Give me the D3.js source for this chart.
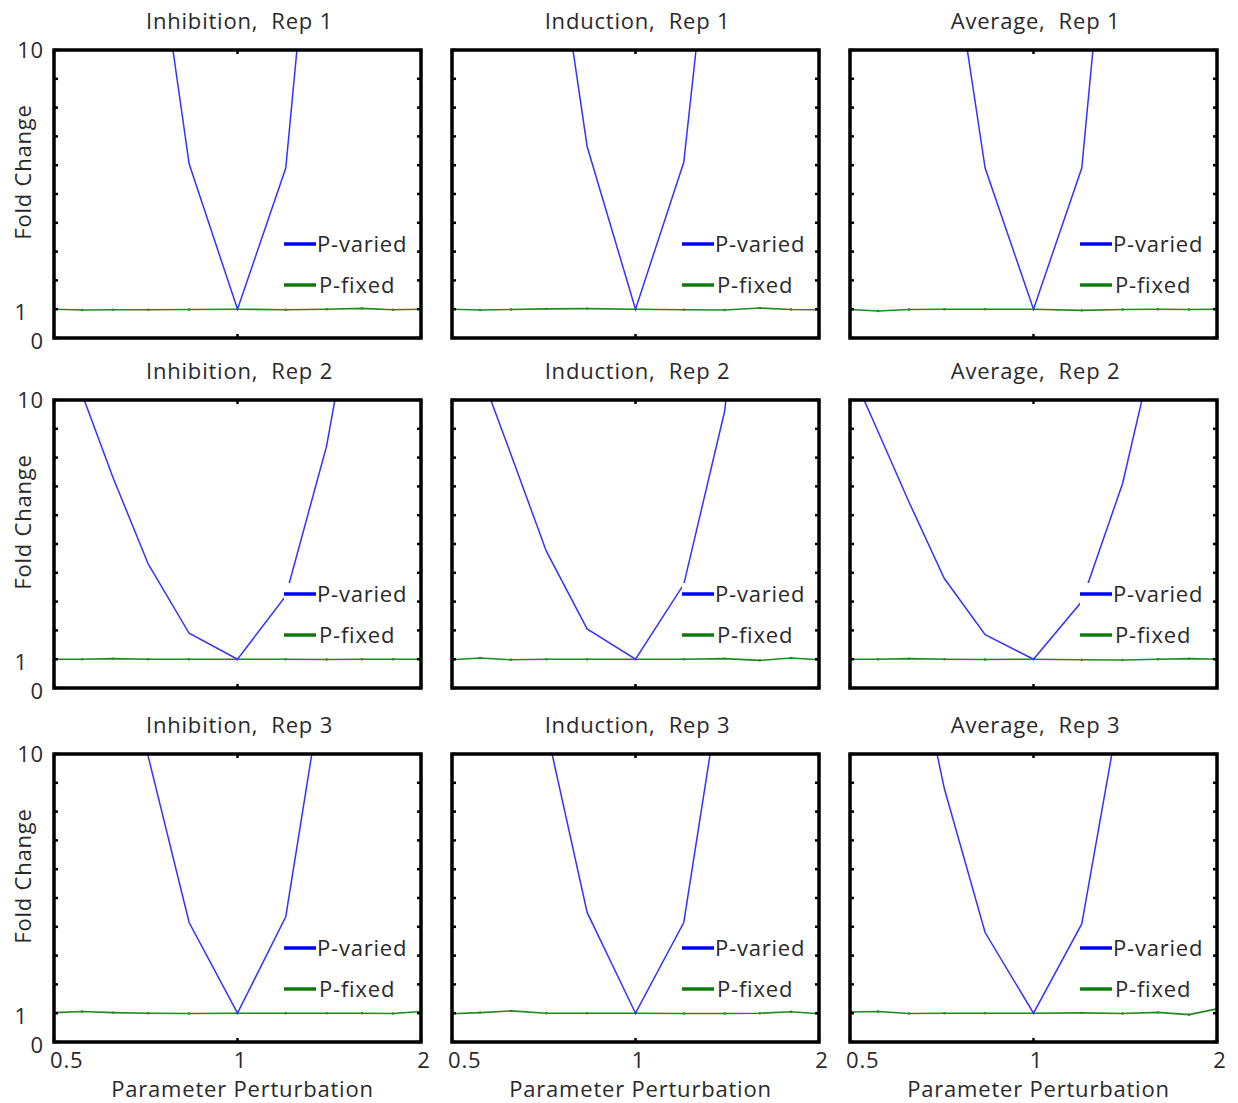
<!DOCTYPE html>
<html>
<head>
<meta charset="utf-8">
<script src="https://cdn.jsdelivr.net/npm/d3@7"></script>
<style>
  html, body { margin: 0; padding: 0; background: #fff; }
  svg text { font-family: "Open Sans", "Noto Sans", sans-serif; fill: #2a2a2a; letter-spacing: 0.8px; }
</style>
</head>
<body>
<svg id="chart" width="1238" height="1103"></svg>
<script>
// ---------------- data ----------------
const perturbation = [0.5, 0.556, 0.625, 0.714, 0.833, 1, 1.2, 1.4, 1.6, 1.8, 2];
const conditions = ["Inhibition", "Induction", "Average"];
const reps = [1, 2, 3];
const seriesNames = ["P-varied", "P-fixed"];
const xTickValues = [0.5, 1, 2];
const xTickLabels = ["0.5", "1", "2"];
const yTickValues = [0, 1, 10];
const yTickLabels = ["0", "1", "10"];
const yMinorTicks = [0, 1, 2, 3, 4, 5, 6, 7, 8, 9, 10];

// P-varied (blue) — rows: Rep 1..3, columns: Inhibition, Induction, Average
const variedInhibitionRep1 = [60, 45, 32, 16, 6.05, 1, 5.9, 20.9, 35, 50, 65];
const variedInductionRep1  = [60, 45, 30, 16.3, 6.65, 1, 6.1, 19.1, 33, 48, 62];
const variedAverageRep1    = [60, 45, 30, 15.3, 5.9, 1, 5.9, 20.9, 35, 50, 65];
const variedInhibitionRep2 = [14, 10.2, 7.3, 4.3, 1.9, 1, 3.2, 8.4, 15.2, 25, 35];
const variedInductionRep2  = [15, 11.0, 8.1, 4.75, 2.05, 1, 3.6, 9.6, 20, 30, 40];
const variedAverageRep2    = [11.1, 8.9, 6.45, 3.8, 1.85, 1, 3.0, 7.1, 12.4, 20, 30];
const variedInhibitionRep3 = [40, 30, 20, 9.9, 4.15, 1, 4.35, 13.2, 25, 35, 45];
const variedInductionRep3  = [40, 30, 20, 10.9, 4.5, 1, 4.15, 13.2, 25, 35, 45];
const variedAverageRep3    = [30, 20, 14.6, 8.8, 3.8, 1, 4.1, 12.1, 22, 32, 42];

// P-fixed (green)
const fixedInhibitionRep1 = [1.0, 0.97, 0.98, 0.98, 0.99, 1.0, 0.98, 1.0, 1.03, 0.98, 1.0];
const fixedInductionRep1  = [1.0, 0.97, 0.99, 1.01, 1.02, 1.0, 0.98, 0.97, 1.04, 0.99, 0.98];
const fixedAverageRep1    = [0.99, 0.94, 0.99, 1.0, 1.0, 1.0, 0.96, 0.99, 1.0, 0.99, 1.0];
const fixedInhibitionRep2 = [1.0, 1.0, 1.02, 1.0, 1.0, 1.0, 1.0, 0.99, 1.0, 1.0, 1.0];
const fixedInductionRep2  = [0.98, 1.04, 0.98, 1.0, 1.0, 1.0, 1.0, 1.02, 0.96, 1.04, 0.98];
const fixedAverageRep2    = [1.0, 1.0, 1.02, 1.0, 0.99, 1.0, 0.98, 0.97, 1.0, 1.02, 1.0];
const fixedInhibitionRep3 = [1.02, 1.06, 1.02, 1.0, 0.99, 1.0, 1.0, 1.0, 1.0, 0.99, 1.06];
const fixedInductionRep3  = [0.98, 1.02, 1.08, 1.0, 1.0, 1.0, 0.99, 0.99, 1.0, 1.05, 0.98];
const fixedAverageRep3    = [1.04, 1.06, 0.99, 1.0, 1.0, 1.0, 1.01, 0.99, 1.03, 0.95, 1.15];

const varied = [
  [variedInhibitionRep1, variedInductionRep1, variedAverageRep1],
  [variedInhibitionRep2, variedInductionRep2, variedAverageRep2],
  [variedInhibitionRep3, variedInductionRep3, variedAverageRep3]
];
const fixed = [
  [fixedInhibitionRep1, fixedInductionRep1, fixedAverageRep1],
  [fixedInhibitionRep2, fixedInductionRep2, fixedAverageRep2],
  [fixedInhibitionRep3, fixedInductionRep3, fixedAverageRep3]
];

// ---------------- layout ----------------
const panelLefts = [54, 452, 850];
const panelTops = [50, 400, 754];
const panelW = 367, panelH = 288;
const blue = "#3333ff", green = "#1f8a1f";
const fontSize = 22;

const svg = d3.select("#chart");
svg.append("rect").attr("width", 1238).attr("height", 1103).attr("fill", "#fff");

const x = d3.scaleLog().domain([0.5, 2]).range([0, panelW]);
const y = d3.scaleLinear().domain([0, 10]).range([panelH, 0]);

const line = d3.line().x(d => x(d[0])).y(d => y(d[1]));

reps.forEach((rep, r) => {
  conditions.forEach((cond, c) => {
    const g = svg.append("g").attr("transform", `translate(${panelLefts[c]},${panelTops[r]})`);
    const clipId = `clip-${r}-${c}`;
    g.append("clipPath").attr("id", clipId)
      .append("rect").attr("width", panelW).attr("height", panelH);

    // title
    g.append("text")
      .attr("x", panelW / 2 + 2).attr("y", -21)
      .attr("text-anchor", "middle")
      .attr("xml:space", "preserve")
      .style("font-size", fontSize + "px")
      .text(`${cond},  Rep ${rep}`);

    const plot = g.append("g").attr("clip-path", `url(#${clipId})`);
    plot.append("path")
      .datum(perturbation.map((p, i) => [p, fixed[r][c][i]]))
      .attr("d", line).attr("fill", "none")
      .attr("stroke", green).attr("stroke-width", 1.6);
    plot.selectAll("circle.fx")
      .data(perturbation.map((p, i) => [p, fixed[r][c][i]]))
      .enter().append("circle")
      .attr("cx", d => x(d[0])).attr("cy", d => y(d[1])).attr("r", 1.2)
      .attr("fill", green);
    plot.append("path")
      .datum(perturbation.map((p, i) => [p, varied[r][c][i]]))
      .attr("d", line).attr("fill", "none")
      .attr("stroke", blue).attr("stroke-width", 1.5);

    // legend (white box hides lines beneath)
    const lg = g.append("g").attr("transform", `translate(${panelW - 137},${panelH - 105})`);
    lg.append("rect").attr("x", 0).attr("y", 0).attr("width", 133).attr("height", 72).attr("fill", "#fff");
    [blue, green].forEach((col, i) => {
      const ly = 11 + i * 41;
      lg.append("line").attr("x1", 0).attr("x2", 32).attr("y1", ly).attr("y2", ly)
        .attr("stroke", i === 0 ? "#0000ff" : "#107a10").attr("stroke-width", 3.5);
      lg.append("text").attr("x", 33 + i * 2).attr("y", ly + 8)
        .style("font-size", fontSize + "px").text(seriesNames[i]);
    });

    // minor ticks on left/right
    yMinorTicks.forEach(v => {
      g.append("line").attr("x1", 0).attr("x2", 4).attr("y1", y(v)).attr("y2", y(v))
        .attr("stroke", "#000").attr("stroke-width", 2.5);
      g.append("line").attr("x1", panelW - 4).attr("x2", panelW).attr("y1", y(v)).attr("y2", y(v))
        .attr("stroke", "#000").attr("stroke-width", 2.5);
    });
    xTickValues.forEach(v => {
      g.append("line").attr("x1", x(v)).attr("x2", x(v)).attr("y1", 0).attr("y2", 4)
        .attr("stroke", "#000").attr("stroke-width", 2.5);
      g.append("line").attr("x1", x(v)).attr("x2", x(v)).attr("y1", panelH - 4).attr("y2", panelH)
        .attr("stroke", "#000").attr("stroke-width", 2.5);
    });

    // frame
    g.append("rect").attr("width", panelW).attr("height", panelH)
      .attr("fill", "none").attr("stroke", "#000").attr("stroke-width", 3.5);

    // y tick labels & label (first column)
    if (c === 0) {
      yTickValues.forEach((v, i) => {
        const lab = yTickLabels[i];
        g.append("text")
          .attr("x", lab === "1" ? -26 : -10)
          .attr("y", y(v) + (v === 10 ? 0 : 3))
          .attr("dy", "0.35em")
          .attr("text-anchor", "end")
          .style("font-size", fontSize + "px")
          .text(lab);
      });
      g.append("text")
        .attr("transform", `translate(${-31},${panelH / 2 - 22}) rotate(-90)`)
        .attr("text-anchor", "middle")
        .attr("dy", "0.35em")
        .style("font-size", fontSize + "px")
        .text("Fold Change");
    }
    // x tick labels & label (bottom row)
    if (r === 2) {
      xTickValues.forEach((v, i) => {
        g.append("text")
          .attr("x", v === 0.5 ? x(v) - 4 : x(v) + 3)
          .attr("y", panelH + 26)
          .attr("text-anchor", v === 0.5 ? "start" : "middle")
          .style("font-size", fontSize + "px")
          .text(xTickLabels[i]);
      });
      g.append("text")
        .attr("x", panelW / 2 + 5).attr("y", panelH + 55)
        .attr("text-anchor", "middle")
        .style("font-size", fontSize + "px")
        .text("Parameter Perturbation");
    }
  });
});
</script>
</body>
</html>
